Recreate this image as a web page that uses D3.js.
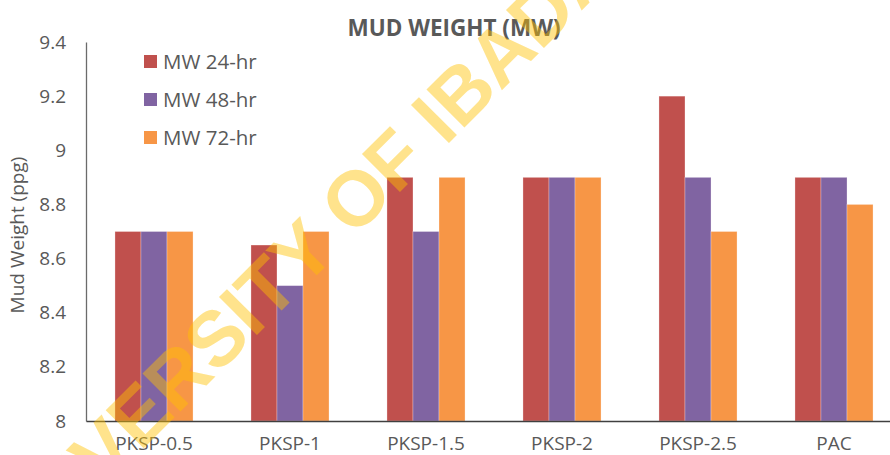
<!DOCTYPE html>
<html>
<head>
<meta charset="utf-8">
<script src="https://cdn.jsdelivr.net/npm/d3@7"></script>
<style>
  body { margin: 0; background: #fff; }
  text { font-family: "Open Sans", "Noto Sans", sans-serif; }
</style>
</head>
<body>
<svg id="chart" width="890" height="455"></svg>
<script>
var categories = ["PKSP-0.5", "PKSP-1", "PKSP-1.5", "PKSP-2", "PKSP-2.5", "PAC"];
var seriesNames = ["MW 24-hr", "MW 48-hr", "MW 72-hr"];
var mw24 = [8.7, 8.65, 8.9, 8.9, 9.2, 8.9];
var mw48 = [8.7, 8.5, 8.7, 8.9, 8.9, 8.9];
var mw72 = [8.7, 8.7, 8.9, 8.9, 8.7, 8.8];
var yTicks = [8, 8.2, 8.4, 8.6, 8.8, 9, 9.2, 9.4];
var colors = ["#C0504D", "#8064A2", "#F79646"];

var series = [mw24, mw48, mw72];
var svg = d3.select("#chart");

// plot area (runs past the right edge like the original)
var plotLeft = 86, plotRight = 902, plotTop = 42, plotBottom = 421;

var x = d3.scaleBand().domain(categories).range([plotLeft, plotRight]).paddingInner(0.426).paddingOuter(0.213);
var xs = d3.scaleBand().domain(seriesNames).range([0, x.bandwidth()]);
var y = d3.scaleLinear().domain([8, 9.4]).range([plotBottom, plotTop]);

/* bars */
var groups = svg.append("g")
  .selectAll("g")
  .data(categories)
  .enter()
  .append("g")
  .attr("transform", function(d) { return "translate(" + x(d) + ",0)"; });

groups.selectAll("rect")
  .data(function(d, i) {
    return series.map(function(s, j) { return { name: seriesNames[j], value: s[i], k: j }; });
  })
  .enter()
  .append("rect")
  .attr("x", function(d) { return xs(d.name); })
  .attr("y", function(d) { return y(d.value); })
  .attr("width", xs.bandwidth())
  .attr("height", function(d) { return plotBottom - y(d.value); })
  .style("fill", function(d) { return colors[d.k]; })
  .style("stroke", "#fff")
  .style("stroke-opacity", 0.35)
  .style("stroke-width", 0.8);

/* axes */
var yAxis = d3.axisLeft(y).tickValues(yTicks).tickSize(0).tickPadding(20)
  .tickFormat(function(d) { return String(+d.toFixed(1)); });
var yg = svg.append("g").attr("transform", "translate(" + plotLeft + ",0)").call(yAxis);
yg.select(".domain").attr("stroke", "#6b6b6b").attr("stroke-width", 1.3);
yg.selectAll("text").attr("fill", "#595959").style("font-size", "19px");

var xAxis = d3.axisBottom(x).tickSize(0).tickPadding(16);
var xg = svg.append("g").attr("transform", "translate(0," + plotBottom + ")").call(xAxis);
xg.select(".domain").attr("stroke", "#404040").attr("stroke-width", 1.3);
xg.selectAll("text").attr("fill", "#595959").style("font-size", "19px");

/* title and axis label */
svg.append("text")
  .attr("x", 454).attr("y", 36)
  .attr("text-anchor", "middle")
  .style("font-size", "22.5px").style("font-weight", "bold")
  .attr("fill", "#595959")
  .text("MUD WEIGHT (MW)");

svg.append("text")
  .attr("transform", "translate(24,235) rotate(-90)")
  .attr("text-anchor", "middle")
  .style("font-size", "19px")
  .attr("fill", "#595959")
  .text("Mud Weight (ppg)");

/* legend */
var legend = svg.append("g")
  .selectAll("g")
  .data(seriesNames)
  .enter()
  .append("g")
  .attr("transform", function(d, i) { return "translate(144," + (55 + i * 38) + ")"; });

legend.append("rect")
  .attr("width", 13).attr("height", 13)
  .style("fill", function(d, i) { return colors[i]; });

legend.append("text")
  .attr("x", 19).attr("y", 14)
  .style("font-size", "20.5px")
  .attr("fill", "#595959")
  .text(function(d) { return d; });

/* watermark */
svg.append("text")
  .attr("transform", "translate(334,258) rotate(-45)")
  .attr("text-anchor", "middle")
  .style("font-family", "'Liberation Sans', Arial, sans-serif")
  .style("font-size", "78px")
  .style("font-weight", "bold")
  .attr("fill", "#FFC000")
  .attr("fill-opacity", 0.45)
  .text("UNIVERSITY OF IBADAN");
</script>
</body>
</html>
